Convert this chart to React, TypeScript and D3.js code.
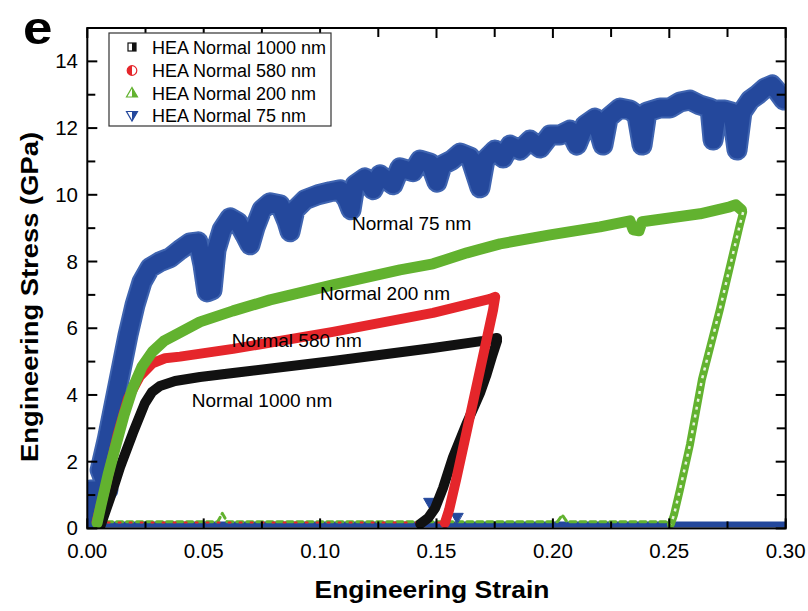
import React from 'react';
import * as d3 from 'd3';

// ---------- data (strain, stress in GPa) ----------
const xTickValues = [0, 0.05, 0.1, 0.15, 0.2, 0.25, 0.3];
const xTickLabels = ['0.00', '0.05', '0.10', '0.15', '0.20', '0.25', '0.30'];
const xMinorValues = [0.025, 0.075, 0.125, 0.175, 0.225, 0.275];
const yTickValues = [0, 2, 4, 6, 8, 10, 12, 14];
const yMinorValues = [1, 3, 5, 7, 9, 11, 13];

const seriesNames = ['HEA Normal 1000 nm', 'HEA Normal 580 nm', 'HEA Normal 200 nm', 'HEA Normal 75 nm'];
const seriesColors = ['#111111', '#e5262b', '#62b22f', '#24489c'];

const black1000 = [
  [0.0055, 0.04], [0.0098, 0.91], [0.0141, 1.84], [0.0196, 2.86], [0.0248, 3.76], [0.0278, 4.09],
  [0.0312, 4.27], [0.0377, 4.42], [0.0484, 4.54], [0.0626, 4.66], [0.1055, 5.02], [0.1485, 5.41],
  [0.17, 5.62], [0.176, 5.71], [0.176, 5.62], [0.1739, 5.17], [0.1713, 4.57], [0.1687, 4.06],
  [0.1631, 3.17], [0.1571, 2.14], [0.1528, 1.21], [0.1494, 0.61], [0.1464, 0.31], [0.143, 0.13],
];

const red580 = [
  [0.004, 0.2], [0.008, 1.3], [0.013, 2.8], [0.0175, 3.9], [0.0225, 4.55], [0.028, 4.95],
  [0.0334, 5.1], [0.0398, 5.15], [0.0626, 5.38], [0.1055, 5.89], [0.1485, 6.46], [0.173, 6.88],
  [0.1752, 6.94], [0.1743, 6.55], [0.1687, 4.75], [0.1631, 2.95], [0.1584, 1.45], [0.1554, 0.55],
  [0.1536, 0.16],
];

const green200Load = [
  [0.0042, 0.16], [0.0059, 0.7], [0.0089, 1.6], [0.0123, 2.5], [0.0158, 3.4], [0.0195, 4.2],
  [0.0235, 4.85], [0.028, 5.3], [0.033, 5.62], [0.0385, 5.82], [0.0484, 6.19], [0.0626, 6.52],
  [0.0785, 6.85], [0.1055, 7.3], [0.1343, 7.75], [0.1485, 7.93], [0.1631, 8.26], [0.1773, 8.53],
  [0.1988, 8.8], [0.2202, 9.04], [0.2331, 9.22], [0.2345, 8.95], [0.237, 8.92], [0.2383, 9.19],
  [0.2632, 9.43], [0.276, 9.64], [0.2786, 9.7], [0.281, 9.55],
];
const green200Unload = [
  [0.2817, 9.48], [0.2803, 9.1], [0.2717, 6.56], [0.264, 4.46], [0.2589, 2.52], [0.2546, 1.17],
  [0.252, 0.4], [0.2507, 0.13],
];

const blue75 = [
  [0.0007, 0.25], [0.0012, 1.15], [0.0089, 1.15], [0.0055, 1.75], [0.0085, 2.65], [0.0115, 3.7],
  [0.0145, 4.75], [0.0175, 5.8], [0.0205, 6.7], [0.0235, 7.39], [0.0269, 7.81], [0.0312, 7.99],
  [0.0355, 8.11], [0.0398, 8.35], [0.0441, 8.56], [0.0476, 8.59], [0.0497, 7.9], [0.0514, 7.09],
  [0.0536, 7.15], [0.0553, 8.35], [0.0579, 8.95], [0.0613, 9.31], [0.0647, 9.18], [0.0677, 8.8],
  [0.0699, 8.5], [0.072, 9.01], [0.075, 9.55], [0.0785, 9.76], [0.0828, 9.7], [0.0858, 9.19],
  [0.0871, 8.89], [0.0892, 9.55], [0.0935, 9.85], [0.0991, 10.0], [0.1043, 10.09], [0.1086, 10.15],
  [0.1116, 9.85], [0.1133, 9.55], [0.115, 10.3], [0.1193, 10.51], [0.1227, 10.15], [0.1257, 10.6],
  [0.1313, 10.3], [0.1343, 10.81], [0.1399, 10.69], [0.1429, 11.04], [0.1472, 10.95], [0.1502, 10.38],
  [0.1524, 10.89], [0.1566, 11.04], [0.1601, 11.25], [0.1644, 11.13], [0.1687, 10.21], [0.1708, 11.04],
  [0.1751, 11.34], [0.1786, 11.1], [0.1816, 11.49], [0.1859, 11.34], [0.1902, 11.64], [0.1945, 11.4],
  [0.1988, 11.79], [0.203, 11.79], [0.2073, 11.94], [0.2103, 11.49], [0.2138, 12.09], [0.2181, 12.3],
  [0.2215, 11.49], [0.2237, 12.3], [0.2288, 12.6], [0.2331, 12.54], [0.2361, 12.39], [0.2383, 11.49],
  [0.2404, 12.48], [0.246, 12.6], [0.2503, 12.6], [0.2546, 12.78], [0.2589, 12.84], [0.2632, 12.69],
  [0.2675, 12.6], [0.2688, 11.64], [0.2709, 12.54], [0.2739, 12.54], [0.2769, 12.48], [0.2791, 11.34],
  [0.2812, 12.48], [0.2847, 12.84], [0.2877, 12.99], [0.2911, 13.2], [0.2941, 13.29], [0.2967, 13.08],
  [0.2992, 12.84],
];
const blue75Strays = [[0.147, 0.8], [0.1588, 0.35]];

const blueBaseline = [[0.0, 0.12], [0.3, 0.12]];
const greenBaseline = [[0.004, 0.2], [0.056, 0.2], [0.058, 0.45], [0.06, 0.2], [0.202, 0.2], [0.204, 0.4], [0.206, 0.2], [0.25, 0.2]];
const redBaseline = [[0.004, 0.18], [0.153, 0.18]];

const annotations = [
  { text: 'Normal 75 nm', sx: 0.1137, sy: 8.95 },
  { text: 'Normal 200 nm', sx: 0.1000, sy: 6.85 },
  { text: 'Normal 580 nm', sx: 0.0621, sy: 5.44 },
  { text: 'Normal 1000 nm', sx: 0.0449, sy: 3.64 },
];

// ---------- layout ----------
const W = 808, H = 611;
const X0 = 87.3, X1 = 785.7, Y0 = 528.4, Y1 = 28;
const FONT = "'Liberation Sans', Arial, Helvetica, sans-serif";

export default function App() {
  const x = d3.scaleLinear().domain([0, 0.3]).range([X0, X1]);
  const y = d3.scaleLinear().domain([0, 15]).range([Y0, Y1]);
  const line = d3.line<number[]>().x(d => x(d[0])).y(d => y(d[1]));
  const tri = d3.symbol().type(d3.symbolTriangle).size(60);

  const legendX = 109, legendY = 33, legendW = 222, legendH = 93;
  const rowY = [47, 70.5, 93, 115.5];

  return (
    <svg width={W} height={H} style={{ position: 'absolute', left: 0, top: 0, background: '#fff' }} fontFamily={FONT}>
      <defs>
        <clipPath id="plot">
          <rect x={X0} y={Y1} width={X1 - X0} height={Y0 - Y1} />
        </clipPath>
      </defs>
      <rect x={0} y={0} width={W} height={H} fill="#fff" />

      <g clipPath="url(#plot)" fill="none" strokeLinejoin="round" strokeLinecap="round">
        {/* baselines */}
        <path d={line(blueBaseline as any) || ''} stroke={seriesColors[3]} strokeWidth={6} />
        <path d={line(greenBaseline as any) || ''} stroke={seriesColors[2]} strokeWidth={3} strokeDasharray="6 4" />
        <path d={line(redBaseline as any) || ''} stroke={seriesColors[1]} strokeWidth={2} strokeDasharray="2 9" />
        {/* 75 nm */}
        <path d={line(blue75 as any) || ''} stroke="#3f64b0" strokeWidth={21} />
        <path d={line(blue75 as any) || ''} stroke={seriesColors[3]} strokeWidth={17} />
        {blue75Strays.map((d, i) => (
          <path key={i} d={tri() || ''} transform={`translate(${x(d[0])},${y(d[1])}) rotate(180)`}
            fill={seriesColors[3]} stroke={seriesColors[3]} strokeWidth={1} />
        ))}
        {/* 1000 nm */}
        <path d={line(black1000 as any) || ''} stroke={seriesColors[0]} strokeWidth={10} />
        {/* 580 nm */}
        <path d={line(red580 as any) || ''} stroke={seriesColors[1]} strokeWidth={10} />
        {/* 200 nm */}
        <path d={line(green200Load as any) || ''} stroke={seriesColors[2]} strokeWidth={11} />
        <path d={line(green200Unload as any) || ''} stroke={seriesColors[2]} strokeWidth={8} />
        <path d={line(green200Unload as any) || ''} stroke="#e6f3dc" strokeWidth={2.5} strokeDasharray="3 5" strokeLinecap="butt" />
      </g>

      {/* frame */}
      <rect x={X0} y={Y1} width={X1 - X0} height={Y0 - Y1} fill="none" stroke="#000" strokeWidth={2} />

      {/* ticks */}
      <g stroke="#000" strokeWidth={2}>
        {xTickValues.map(v => (
          <g key={'xt' + v}>
            <line x1={x(v)} x2={x(v)} y1={Y0} y2={Y0 - 10} />
            <line x1={x(v)} x2={x(v)} y1={Y1} y2={Y1 + 10} />
          </g>
        ))}
        {xMinorValues.map(v => (
          <g key={'xm' + v}>
            <line x1={x(v)} x2={x(v)} y1={Y0} y2={Y0 - 7} />
            <line x1={x(v)} x2={x(v)} y1={Y1} y2={Y1 + 9} />
          </g>
        ))}
        {yTickValues.map(v => (
          <g key={'yt' + v}>
            <line x1={X0} x2={X0 + 10} y1={y(v)} y2={y(v)} />
            <line x1={X1} x2={X1 - 10} y1={y(v)} y2={y(v)} />
          </g>
        ))}
        {yMinorValues.map(v => (
          <g key={'ym' + v}>
            <line x1={X0} x2={X0 + 8} y1={y(v)} y2={y(v)} />
            <line x1={X1} x2={X1 - 9} y1={y(v)} y2={y(v)} />
          </g>
        ))}
      </g>

      {/* tick labels */}
      <g fontSize={20.5} fill="#000">
        {xTickValues.map((v, i) => (
          <text key={'xl' + v} x={x(v)} y={558} textAnchor="middle">{xTickLabels[i]}</text>
        ))}
        {yTickValues.map(v => (
          <text key={'yl' + v} x={78} y={y(v) + 7} textAnchor="end">{v}</text>
        ))}
      </g>

      {/* axis titles */}
      <text x={432} y={598} textAnchor="middle" fontSize={24} fontWeight="bold" textLength={235} lengthAdjust="spacingAndGlyphs">Engineering Strain</text>
      <text transform="translate(38,297) rotate(-90)" textAnchor="middle" fontSize={24} fontWeight="bold" textLength={330} lengthAdjust="spacingAndGlyphs">Engineering Stress (GPa)</text>

      {/* panel letter */}
      <text x={0} y={0} fontSize={46} fontWeight="bold" transform="translate(23,44) scale(1.15,1)">e</text>

      {/* annotations */}
      <g fontSize={19} fill="#000">
        {annotations.map(a => (
          <text key={a.text} x={x(a.sx)} y={y(a.sy)}>{a.text}</text>
        ))}
      </g>

      {/* legend */}
      <rect x={legendX} y={legendY} width={legendW} height={legendH} fill="#fff" stroke="#333" strokeWidth={1.2} />
      <g>
        <rect x={128} y={rowY[0] - 4} width={8} height={8} fill="#fff" stroke={seriesColors[0]} strokeWidth={1.2} />
        <rect x={132} y={rowY[0] - 4} width={4} height={8} fill={seriesColors[0]} />
        <circle cx={132} cy={rowY[1]} r={4.8} fill="#fff" stroke={seriesColors[1]} strokeWidth={1.2} />
        <path d={`M132,${rowY[1] - 4.8} A4.8,4.8 0 0 0 132,${rowY[1] + 4.8} Z`} fill={seriesColors[1]} />
        <path d={`M132,${rowY[2] - 5.5} L137.5,${rowY[2] + 4} L126.5,${rowY[2] + 4} Z`} fill="#fff" stroke={seriesColors[2]} strokeWidth={1.2} />
        <path d={`M132,${rowY[2] - 5.5} L137.5,${rowY[2] + 4} L132,${rowY[2] + 4} Z`} fill={seriesColors[2]} />
        <path d={`M126.5,${rowY[3] - 4} L137.5,${rowY[3] - 4} L132,${rowY[3] + 5.5} Z`} fill="#fff" stroke={seriesColors[3]} strokeWidth={1.2} />
        <path d={`M132,${rowY[3] - 4} L137.5,${rowY[3] - 4} L132,${rowY[3] + 5.5} Z`} fill={seriesColors[3]} />
      </g>
      <g fontSize={18} fill="#000">
        {seriesNames.map((n, i) => (
          <text key={n} x={152} y={rowY[i] + 6.5}>{n}</text>
        ))}
      </g>
    </svg>
  );
}
